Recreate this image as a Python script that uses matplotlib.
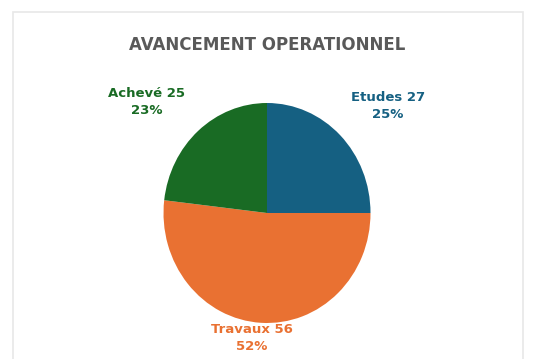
import matplotlib.pyplot as plt
from matplotlib.patches import Rectangle

labels = ["Etudes", "Travaux", "Achevé"]
counts = [27, 56, 25]
colors = ["#156082", "#E97132", "#196B24"]

W, H = 540, 359
fig = plt.figure(figsize=(W / 100, H / 100), dpi=100)
fig.patch.set_facecolor("white")


def px(x, y):
    # pixel position (from top-left) -> figure fraction
    return x / W, 1 - y / H


# card behind the chart
bg = fig.add_axes([0, 0, 1, 1])
bg.set_xlim(0, W)
bg.set_ylim(H, 0)
bg.axis("off")
bg.add_patch(Rectangle((13, 12), 510, H, facecolor="white",
                       edgecolor="#e8e8e8", linewidth=1.2))

# pie lives in its own box, slightly taller than wide
left, top, right, bottom = 163.5, 103, 370.5, 323
pie_ax = fig.add_axes([left / W, 1 - bottom / H, (right - left) / W, (bottom - top) / H])
pie_ax.pie(counts, colors=colors, startangle=90, counterclock=False,
           radius=1, wedgeprops=dict(linewidth=0))
pie_ax.set_aspect("auto")
pie_ax.set_xlim(-1, 1)
pie_ax.set_ylim(-1, 1)
pie_ax.axis("off")

fig.text(*px(267, 45), "AVANCEMENT OPERATIONNEL", ha="center", va="center",
         fontsize=12, color="#595959", fontweight="bold")

total = sum(counts)
label_pos = [(388, 106), (252, 338), (147, 102)]
for name, n, c, (x, y) in zip(labels, counts, colors, label_pos):
    pct = round(100 * n / total)
    fig.text(*px(x, y), f"{name} {n}\n{pct}%", ha="center", va="center",
             fontsize=9.5, color=c, fontweight="bold", linespacing=1.35,
             zorder=5)

fig.savefig("out.png", dpi=100)
